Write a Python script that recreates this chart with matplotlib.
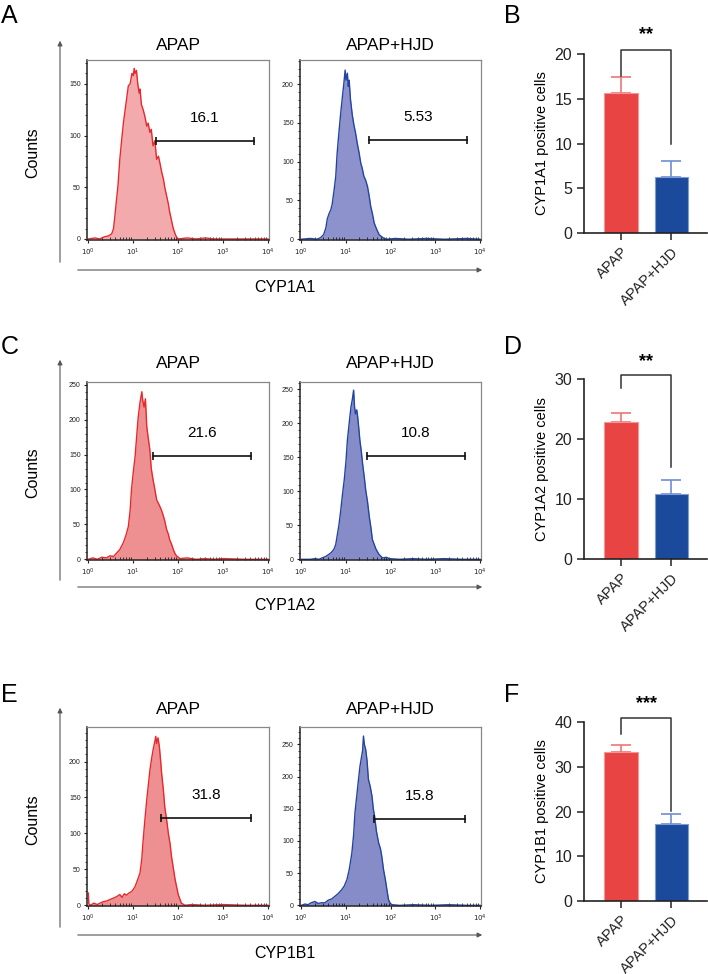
import numpy as np
import matplotlib.pyplot as plt
from matplotlib.patches import FancyArrowPatch
from matplotlib.ticker import FixedLocator, LogLocator, NullFormatter

plt.rcParams['font.family'] = ['Liberation Sans', 'DejaVu Sans']

W, H = 708, 974

# ---- flow histograms: log10(fluorescence) positions and counts ----
a_apap_x = [0.00, 0.15, 0.25, 0.35, 0.45, 0.52, 0.56, 0.59, 0.62, 0.66, 0.70, 0.74, 0.78, 0.81, 0.85,
            0.89, 0.93, 0.97, 1.00, 1.02, 1.04, 1.07, 1.10, 1.13, 1.15, 1.18, 1.22, 1.26, 1.30, 1.33,
            1.37, 1.40, 1.44, 1.48, 1.52, 1.56, 1.59, 1.63, 1.67, 1.70, 1.74, 1.78, 1.81, 1.85, 1.89,
            1.93, 1.96, 2.00, 2.20, 2.40, 2.60, 2.80, 3.00, 3.50, 4.00]
a_apap_y = [0, 1, 0, 2, 3, 5, 10, 22, 35, 52, 77, 95, 112, 122, 135,
            148, 150, 160, 158, 165, 160, 163, 150, 141, 145, 130, 125, 118, 109, 112,
            103, 106, 90, 95, 77, 80, 74, 65, 58, 50, 42, 34, 26, 18, 10,
            5, 2, 0, 1, 0, 1, 0, 0, 0, 0]
a_hjd_x = [0.00, 0.20, 0.35, 0.43, 0.50, 0.55, 0.58, 0.62, 0.66, 0.69, 0.73, 0.77, 0.80, 0.84, 0.88,
           0.92, 0.95, 0.98, 1.00, 1.03, 1.05, 1.07, 1.10, 1.14, 1.18, 1.21, 1.25, 1.29, 1.33, 1.36,
           1.40, 1.44, 1.48, 1.52, 1.55, 1.59, 1.63, 1.67, 1.70, 1.74, 1.78, 1.85, 1.92, 2.10, 2.40,
           2.80, 3.20, 3.70, 4.00]
a_hjd_y = [0, 1, 0, 2, 6, 15, 26, 33, 38, 45, 62, 81, 110, 137, 162,
           184, 200, 218, 205, 214, 197, 205, 180, 160, 146, 138, 124, 112, 98, 92,
           81, 76, 68, 55, 43, 33, 21, 15, 11, 6, 4, 1, 0, 1, 0,
           1, 0, 1, 0]

c_apap_x = [0.00, 0.10, 0.20, 0.30, 0.40, 0.48, 0.56, 0.63, 0.70, 0.78, 0.84, 0.89, 0.93, 0.96, 1.00,
            1.04, 1.08, 1.11, 1.15, 1.19, 1.21, 1.24, 1.27, 1.30, 1.33, 1.37, 1.40, 1.44, 1.48, 1.52,
            1.56, 1.59, 1.63, 1.67, 1.70, 1.74, 1.78, 1.81, 1.85, 1.89, 1.93, 1.96, 2.00, 2.04, 2.20,
            2.40, 2.60, 2.80, 3.00, 3.50, 4.00]
c_apap_y = [0, 2, 0, 3, 2, 5, 4, 9, 14, 24, 35, 47, 70, 100, 125,
            147, 180, 204, 225, 240, 228, 218, 230, 190, 175, 156, 130, 114, 100, 85,
            80, 76, 70, 62, 55, 43, 36, 28, 22, 14, 8, 5, 3, 1, 2,
            0, 1, 0, 1, 0, 0]
c_hjd_x = [0.00, 0.20, 0.31, 0.40, 0.46, 0.54, 0.61, 0.67, 0.73, 0.77, 0.80, 0.84, 0.88, 0.92, 0.96,
           1.00, 1.03, 1.07, 1.11, 1.14, 1.17, 1.19, 1.21, 1.24, 1.26, 1.29, 1.31, 1.34, 1.37, 1.41,
           1.44, 1.48, 1.52, 1.56, 1.59, 1.63, 1.67, 1.74, 1.82, 1.90, 1.97, 2.20, 2.50, 2.80, 3.20,
           3.60, 4.00]
c_hjd_y = [0, 0, 1, 0, 2, 4, 7, 10, 15, 22, 34, 50, 71, 95, 117,
           145, 175, 200, 224, 235, 249, 225, 214, 220, 210, 190, 175, 160, 141, 120,
           102, 85, 63, 45, 29, 22, 15, 7, 2, 3, 1, 0, 1, 0, 1,
           0, 0]

e_apap_x = [0.00, 0.01, 0.05, 0.12, 0.20, 0.26, 0.33, 0.41, 0.48, 0.56, 0.63, 0.70, 0.75, 0.80, 0.85,
            0.90, 0.96, 1.00, 1.04, 1.07, 1.11, 1.15, 1.19, 1.22, 1.26, 1.30, 1.34, 1.37, 1.41, 1.44,
            1.48, 1.50, 1.52, 1.55, 1.58, 1.61, 1.63, 1.67, 1.70, 1.74, 1.78, 1.82, 1.85, 1.89, 1.93,
            1.97, 2.00, 2.04, 2.07, 2.15, 2.30, 2.60, 3.00, 3.50, 4.00]
e_apap_y = [17, 2, 0, 3, 1, 3, 5, 6, 8, 10, 12, 15, 11, 16, 14,
            17, 19, 22, 26, 31, 38, 45, 65, 91, 120, 147, 170, 188, 205, 216,
            228, 235, 225, 233, 221, 200, 184, 160, 137, 120, 100, 85, 68, 52, 36,
            24, 15, 8, 3, 0, 1, 0, 1, 0, 0]
e_hjd_x = [0.00, 0.08, 0.15, 0.22, 0.30, 0.38, 0.45, 0.53, 0.60, 0.68, 0.75, 0.82, 0.90, 0.96, 1.02,
           1.07, 1.13, 1.17, 1.20, 1.24, 1.28, 1.31, 1.35, 1.37, 1.39, 1.41, 1.44, 1.47, 1.50, 1.54,
           1.58, 1.61, 1.64, 1.68, 1.73, 1.77, 1.80, 1.84, 1.88, 1.92, 1.95, 1.99, 2.03, 2.20, 2.50,
           2.90, 3.30, 3.70, 4.00]
e_hjd_y = [0, 2, 1, 4, 6, 3, 4, 4, 8, 10, 14, 18, 24, 30, 40,
           55, 81, 110, 144, 170, 196, 215, 232, 240, 263, 250, 242, 225, 196, 185,
           170, 150, 138, 115, 97, 88, 76, 55, 40, 22, 9, 3, 1, 0, 1,
           0, 1, 0, 0]

# gate: (log start, log end, height, percent label)
gates = {
    'a_apap': (1.50, 3.68, 95, '16.1'), 'a_hjd': (1.52, 3.70, 128, '5.53'),
    'c_apap': (1.43, 3.61, 148, '21.6'), 'c_hjd': (1.46, 3.67, 152, '10.8'),
    'e_apap': (1.61, 3.63, 121, '31.8'), 'e_hjd': (1.62, 3.67, 134, '15.8'),
}

# ---- bar charts ----
groups = ['APAP', 'APAP+HJD']
cyp1a1_mean = [15.6, 6.3]
cyp1a1_err = [1.8, 1.7]
cyp1a2_mean = [22.8, 10.8]
cyp1a2_err = [1.6, 2.4]
cyp1b1_mean = [33.2, 17.2]
cyp1b1_err = [1.7, 2.2]


def box(x0, y0, x1, y1):
    return [x0 / W, 1 - y1 / H, (x1 - x0) / W, (y1 - y0) / H]


def fx(x):
    return x / W


def fy(y):
    return 1 - y / H


RED = '#E8282B'
BLUE = '#2344A0'

fig = plt.figure(figsize=(W / 100, H / 100), dpi=100)


def histo(rect, xs, ys, ymax, yticks, gate, line, fill):
    ax = fig.add_axes(rect)
    xv = 10 ** np.array(xs)
    ax.fill_between(xv, ys, color=fill, lw=0)
    ax.plot(xv, ys, color=line, lw=1.0)
    ax.set_xscale('log')
    ax.set_xlim(10 ** -0.03, 10 ** 4.02)
    ax.set_ylim(-1, ymax)
    ax.set_xticks([1, 10, 100, 1000, 10000])
    ax.set_xticklabels(['$10^{0}$', '$10^{1}$', '$10^{2}$', '$10^{3}$', '$10^{4}$'])
    ax.xaxis.set_minor_locator(LogLocator(subs=range(2, 10)))
    ax.xaxis.set_minor_formatter(NullFormatter())
    ax.yaxis.set_major_locator(FixedLocator(yticks))
    ax.yaxis.set_minor_locator(FixedLocator(range(0, int(ymax) + 1, 10)))
    ax.tick_params(axis='both', which='major', labelsize=5, length=2.5, width=0.8,
                   colors='#222', pad=2)
    ax.tick_params(axis='x', which='minor', direction='in', length=2, width=0.5)
    ax.tick_params(axis='y', which='minor', length=1.5, width=0.5)
    for s in ['top', 'right']:
        ax.spines[s].set_color('#888')
        ax.spines[s].set_linewidth(0.9)
    for s in ['left', 'bottom']:
        ax.spines[s].set_color('#222')
        ax.spines[s].set_linewidth(1.1)
    g0, g1, gy, lab = gate
    ax.plot([10 ** g0, 10 ** g1], [gy, gy], color='#111', lw=1.2, marker='|', ms=6, mew=1.2)
    ax.text(10 ** ((g0 + g1) / 2), gy + ymax * 0.09, lab, ha='center', va='bottom', fontsize=11)
    return ax


def bars(rect, means, errs, ymax, yticks, ylabel, br, stars):
    ax = fig.add_axes(rect)
    xs = np.arange(len(groups))
    ax.bar(xs, means, width=0.67, color=['#E84444', '#1B4A9C'],
           edgecolor=['#F59595', '#7F9BD6'], lw=0.8, zorder=2)
    ax.errorbar(xs[:1], means[:1], yerr=[[0], errs[:1]], fmt='none', ecolor='#F07575',
                capsize=7, elinewidth=1.2, capthick=1.2, zorder=1)
    ax.errorbar(xs[1:], means[1:], yerr=[[0], errs[1:]], fmt='none', ecolor='#6E8ED2',
                capsize=7, elinewidth=1.2, capthick=1.2, zorder=1)
    ax.set_xlim(-0.725, 1.70)
    ax.set_ylim(0, ymax)
    ax.set_yticks(yticks)
    ax.set_xticks(xs)
    ax.set_xticklabels(groups, rotation=45, ha='right', rotation_mode='anchor')
    ax.tick_params(axis='y', labelsize=11.5, length=5, width=1.1, colors='#222')
    ax.tick_params(axis='x', labelsize=10.5, length=5, width=1.1, colors='#222')
    ax.spines['top'].set_visible(False)
    ax.spines['right'].set_visible(False)
    for s in ['left', 'bottom']:
        ax.spines[s].set_linewidth(1.2)
        ax.spines[s].set_color('#222')
    ax.set_ylabel(ylabel, fontsize=10.5, labelpad=4)
    top, lft, rgt, sy = br
    ax.plot([0, 0, 1, 1], [lft, top, top, rgt], color='#333', lw=1.1, clip_on=False)
    ax.text(0.5, sy, stars, ha='center', va='center', fontsize=13, fontweight='bold',
            clip_on=False)
    return ax


rows = [
    dict(ht=60, hb=240, bt=54, bb=233, title_y=45, counts_y=153, lab_y=287, arr=(265, 38), hy=270,
         data=[(a_apap_x, a_apap_y, 173, [0, 50, 100, 150], gates['a_apap']),
               (a_hjd_x, a_hjd_y, 231, [0, 50, 100, 150, 200], gates['a_hjd'])],
         fills=('#F2AAAD', '#8D92CC'), marker='CYP1A1',
         bar=(cyp1a1_mean, cyp1a1_err, 20, [0, 5, 10, 15, 20], 'CYP1A1 positive cells',
              (20.5, 17.5, 10.0, 22.2), '**'),
         letters=('A', 'B', 16)),
    dict(ht=382, hb=560, bt=379, bb=559, title_y=363, counts_y=473, lab_y=606, arr=(583, 357), hy=587,
         data=[(c_apap_x, c_apap_y, 254, [0, 50, 100, 150, 200, 250], gates['c_apap']),
               (c_hjd_x, c_hjd_y, 261, [0, 50, 100, 150, 200, 250], gates['c_hjd'])],
         fills=('#EE8F91', '#858CC8'), marker='CYP1A2',
         bar=(cyp1a2_mean, cyp1a2_err, 30, [0, 10, 20, 30], 'CYP1A2 positive cells',
              (30.7, 28.5, 15.3, 32.9), '**'),
         letters=('C', 'D', 347)),
    dict(ht=727, hb=906, bt=722, bb=901, title_y=710, counts_y=820, lab_y=953, arr=(930, 705), hy=935,
         data=[(e_apap_x, e_apap_y, 248, [0, 50, 100, 150, 200], gates['e_apap']),
               (e_hjd_x, e_hjd_y, 277, [0, 50, 100, 150, 200, 250], gates['e_hjd'])],
         fills=('#EE8F91', '#858CC8'), marker='CYP1B1',
         bar=(cyp1b1_mean, cyp1b1_err, 40, [0, 10, 20, 30, 40], 'CYP1B1 positive cells',
              (41.0, 37.4, 20.1, 44.1), '***'),
         letters=('E', 'F', 695)),
]

hx = [(87, 269), (300, 481)]
titles = ['APAP', 'APAP+HJD']
title_x = [178, 390]

for r in rows:
    for k in range(2):
        xs, ys, ymax, yt, gate = r['data'][k]
        line = RED if k == 0 else BLUE
        histo(box(hx[k][0], r['ht'], hx[k][1], r['hb']), xs, ys, ymax, yt, gate, line, r['fills'][k])
        fig.text(fx(title_x[k]), fy(r['title_y']), titles[k], ha='center', va='center', fontsize=12.5)
    # outer axis arrows
    fig.add_artist(FancyArrowPatch((fx(60), fy(r['arr'][0])), (fx(60), fy(r['arr'][1])),
                                   transform=fig.transFigure, arrowstyle='-|>', mutation_scale=7,
                                   lw=0.8, color='#555'))
    fig.add_artist(FancyArrowPatch((fx(75), fy(r['hy'])), (fx(485), fy(r['hy'])),
                                   transform=fig.transFigure, arrowstyle='-|>', mutation_scale=7,
                                   lw=0.8, color='#555'))
    fig.text(fx(33), fy(r['counts_y']), 'Counts', rotation=90, ha='center', va='center', fontsize=11.5)
    fig.text(fx(285), fy(r['lab_y']), r['marker'], ha='center', va='center', fontsize=11.5)
    m, e, ymax, yt, yl, br, st = r['bar']
    bars(box(584, r['bt'], 707, r['bb']), m, e, ymax, yt, yl, br, st)
    l1, l2, ly = r['letters']
    fig.text(fx(1), fy(ly), l1, ha='left', va='center', fontsize=18)
    fig.text(fx(504), fy(ly), l2, ha='left', va='center', fontsize=18)

fig.savefig('out.png', dpi=100)
